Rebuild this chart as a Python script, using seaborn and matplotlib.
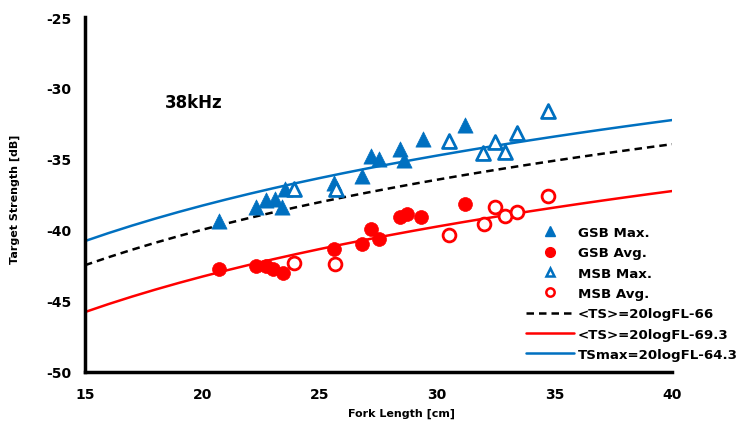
import numpy as np
import pandas as pd
import matplotlib
matplotlib.use("Agg")
import matplotlib.pyplot as plt
import seaborn as sns
from matplotlib.lines import Line2D

# ---- data ----
gsb_max_fl = [20.7, 22.3, 22.7, 23.1, 23.4, 23.5, 25.6, 26.8, 27.2, 27.5, 28.4, 28.6, 29.4, 31.2]
gsb_max_ts = [-39.4, -38.4, -37.9, -37.8, -38.4, -37.1, -36.7, -36.2, -34.8, -35.0, -34.3, -35.05, -33.6, -32.6]

gsb_avg_fl = [20.7, 22.3, 22.7, 23.0, 23.45, 25.6, 26.8, 27.2, 27.5, 28.4, 28.7, 29.3, 31.2]
gsb_avg_ts = [-42.75, -42.5, -42.5, -42.75, -43.0, -41.35, -41.0, -39.9, -40.6, -39.1, -38.9, -39.1, -38.2]

msb_max_fl = [23.9, 25.7, 30.5, 31.95, 32.45, 32.9, 33.4, 34.7]
msb_max_ts = [-37.1, -37.1, -33.7, -34.6, -33.8, -34.5, -33.2, -31.6]

msb_avg_fl = [23.9, 25.65, 30.5, 32.0, 32.45, 32.9, 33.4, 34.7]
msb_avg_ts = [-42.3, -42.4, -40.35, -39.6, -38.4, -39.0, -38.75, -37.6]

# fork lengths at which the three fitted equations (from the legend) are drawn
fit_fl = [15, 16, 17, 18, 19, 20, 21, 22, 23, 24, 25, 26, 27, 28, 29, 30,
          31, 32, 33, 34, 35, 36, 37, 38, 39, 40]
fit_names = ["<TS>=20logFL-66", "<TS>=20logFL-69.3", "TSmax=20logFL-64.3"]
fit_offsets = [-66.0, -69.3, -64.3]

x_ticks = [15, 20, 25, 30, 35, 40]
y_ticks = [-50, -45, -40, -35, -30, -25]

BLUE = "#0070C0"
RED = "#FF0000"

sns.set_style("white")
plt.rcParams["font.family"] = ["DejaVu Sans"]
plt.rcParams.update({"text.color": "black", "axes.labelcolor": "black",
                     "xtick.color": "black", "ytick.color": "black"})

fig = plt.figure(figsize=(7.46, 4.31), dpi=100)
ax = fig.add_axes([85/746, 1-373/431, (672-85)/746, (373-18)/431])

pts = pd.concat([
    pd.DataFrame({"FL": gsb_max_fl, "TS": gsb_max_ts, "grp": "GSB Max."}),
    pd.DataFrame({"FL": gsb_avg_fl, "TS": gsb_avg_ts, "grp": "GSB Avg."}),
    pd.DataFrame({"FL": msb_max_fl, "TS": msb_max_ts, "grp": "MSB Max."}),
    pd.DataFrame({"FL": msb_avg_fl, "TS": msb_avg_ts, "grp": "MSB Avg."}),
])

fl = np.array(fit_fl, dtype=float)
fits = pd.concat([
    pd.DataFrame({"FL": fl, "TS": 20*np.log10(fl) + off, "fit": name})
    for name, off in zip(fit_names, fit_offsets)
])

line_styles = {
    fit_names[0]: dict(color="black", ls=(0, (3, 2))),
    fit_names[1]: dict(color=RED, ls="-"),
    fit_names[2]: dict(color=BLUE, ls="-"),
}
for name, st in line_styles.items():
    sns.lineplot(data=fits[fits["fit"] == name], x="FL", y="TS", ax=ax,
                 color=st["color"], linestyle=st["ls"], linewidth=1.8, legend=False)

sns.scatterplot(data=pts[pts["grp"] == "GSB Max."], x="FL", y="TS", ax=ax, marker="^",
                s=120, color=BLUE, edgecolor=BLUE, linewidth=0.5, legend=False, zorder=3)
sns.scatterplot(data=pts[pts["grp"] == "GSB Avg."], x="FL", y="TS", ax=ax, marker="o",
                s=100, color=RED, edgecolor=RED, linewidth=0.5, legend=False, zorder=3)
sns.scatterplot(data=pts[pts["grp"] == "MSB Max."], x="FL", y="TS", ax=ax, marker="^",
                s=100, facecolor="white", edgecolor=BLUE, linewidth=2, legend=False, zorder=3)
sns.scatterplot(data=pts[pts["grp"] == "MSB Avg."], x="FL", y="TS", ax=ax, marker="o",
                s=85, facecolor="white", edgecolor=RED, linewidth=2, legend=False, zorder=3)

ax.set_xlim(15, 40)
ax.set_ylim(-50, -25)
ax.set_xticks(x_ticks)
ax.set_yticks(y_ticks)
ax.set_xticklabels([str(t) for t in x_ticks], fontsize=10, fontweight="bold")
ax.set_yticklabels([str(t) for t in y_ticks], fontsize=10, fontweight="bold")
ax.tick_params(axis="both", direction="out", length=3, width=2, color="black", pad=7)
ax.tick_params(axis="x", pad=8)

for side in ["top", "right"]:
    ax.spines[side].set_visible(False)
for side in ["left", "bottom"]:
    ax.spines[side].set_linewidth(2.5)
    ax.spines[side].set_color("black")

ax.set_xlabel("Fork Length [cm]", fontsize=8, fontweight="bold")
ax.set_ylabel("Target Strength [dB]", fontsize=8, fontweight="bold")
ax.xaxis.set_label_coords(0.54, -0.10)
ax.yaxis.set_label_coords(-0.11, 0.49)

ax.text(18.4, -31.0, "38kHz", fontsize=12, fontweight="bold", va="center", ha="left")

handles = [
    Line2D([], [], ls="none", marker="^", ms=7, color=BLUE),
    Line2D([], [], ls="none", marker="o", ms=7, color=RED),
    Line2D([], [], ls="none", marker="^", ms=6, mfc="white", mec=BLUE, mew=1.8),
    Line2D([], [], ls="none", marker="o", ms=6, mfc="white", mec=RED, mew=1.8),
    Line2D([], [], color="black", ls=(0, (3, 2)), lw=1.8),
    Line2D([], [], color=RED, lw=1.8),
    Line2D([], [], color=BLUE, lw=1.8),
]
labels = ["GSB Max.", "GSB Avg.", "MSB Max.", "MSB Avg."] + fit_names
leg = fig.legend(handles, labels, loc="upper left", bbox_to_anchor=(526/746, 1-227/431),
                 frameon=False, handlelength=3.6, handletextpad=0.3, labelspacing=0.55,
                 prop={"weight": "bold", "size": 9.6}, borderaxespad=0, borderpad=0)

fig.savefig("out.png", dpi=100)
